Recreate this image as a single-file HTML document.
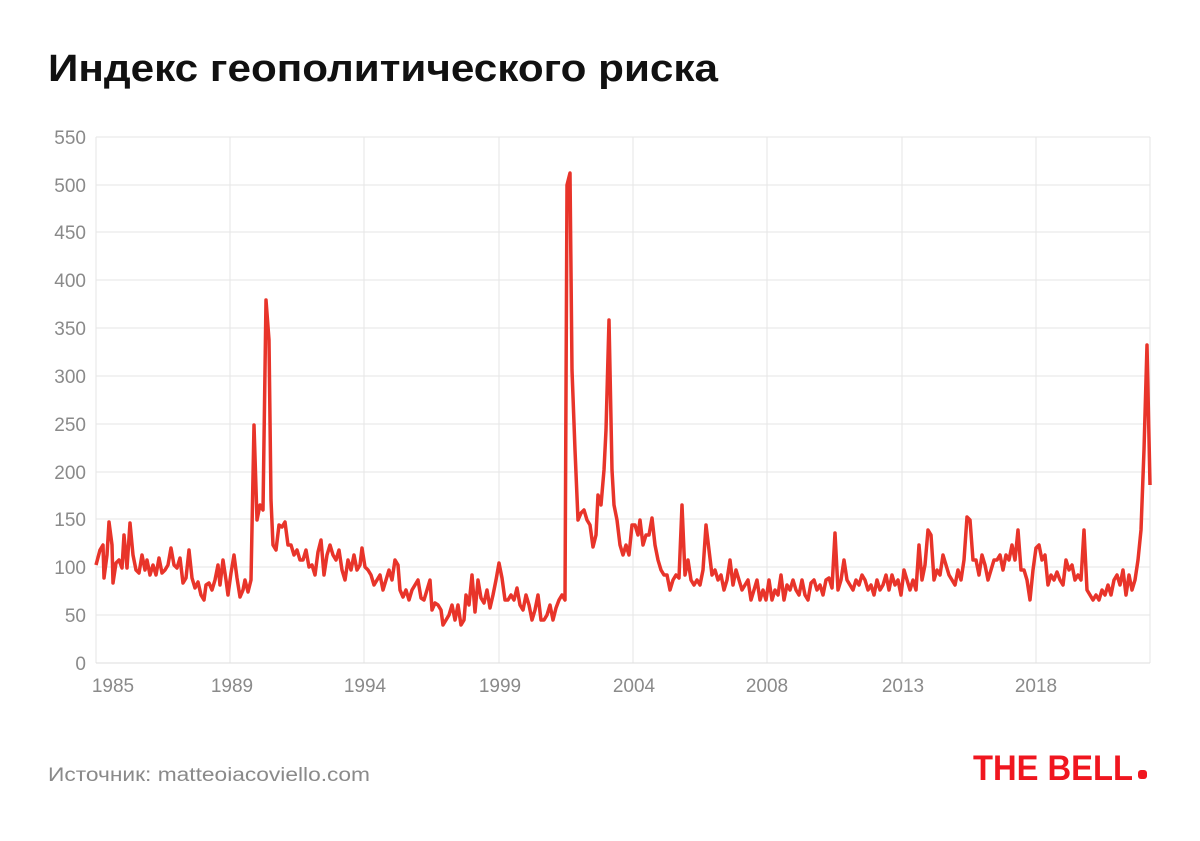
<!DOCTYPE html>
<html><head><meta charset="utf-8"><style>
html,body{margin:0;padding:0;background:#fff;width:1200px;height:841px;overflow:hidden}
</style></head><body>
<svg width="1200" height="841" xmlns="http://www.w3.org/2000/svg" style="position:absolute;left:0;top:0">
<text x="48" y="81" font-family="Liberation Sans, sans-serif" font-size="38" font-weight="bold" fill="#111" textLength="670" lengthAdjust="spacingAndGlyphs">Индекс геополитического риска</text>
<g stroke="#e6e6e6" stroke-width="1">
<line x1="96" x2="1150" y1="137" y2="137"/><line x1="96" x2="1150" y1="185" y2="185"/><line x1="96" x2="1150" y1="232" y2="232"/><line x1="96" x2="1150" y1="280" y2="280"/><line x1="96" x2="1150" y1="328" y2="328"/><line x1="96" x2="1150" y1="376" y2="376"/><line x1="96" x2="1150" y1="424" y2="424"/><line x1="96" x2="1150" y1="472" y2="472"/><line x1="96" x2="1150" y1="519" y2="519"/><line x1="96" x2="1150" y1="567" y2="567"/><line x1="96" x2="1150" y1="615" y2="615"/>
<line x1="96" x2="96" y1="137" y2="663"/><line x1="230" x2="230" y1="137" y2="663"/><line x1="364" x2="364" y1="137" y2="663"/><line x1="499" x2="499" y1="137" y2="663"/><line x1="633" x2="633" y1="137" y2="663"/><line x1="767" x2="767" y1="137" y2="663"/><line x1="902" x2="902" y1="137" y2="663"/><line x1="1036" x2="1036" y1="137" y2="663"/><line x1="1150" x2="1150" y1="137" y2="663"/>
<line x1="96" x2="1150" y1="663" y2="663" stroke="#ddd"/>
</g>
<g font-family="Liberation Sans, sans-serif" font-size="19" fill="#8a8a8a" text-anchor="end">
<text x="86" y="144">550</text><text x="86" y="192">500</text><text x="86" y="239">450</text><text x="86" y="287">400</text><text x="86" y="335">350</text><text x="86" y="383">300</text><text x="86" y="431">250</text><text x="86" y="479">200</text><text x="86" y="526">150</text><text x="86" y="574">100</text><text x="86" y="622">50</text><text x="86" y="670">0</text>
</g>
<g font-family="Liberation Sans, sans-serif" font-size="19" fill="#8a8a8a" text-anchor="middle">
<text x="113" y="692">1985</text><text x="232" y="692">1989</text><text x="365" y="692">1994</text><text x="500" y="692">1999</text><text x="634" y="692">2004</text><text x="767" y="692">2008</text><text x="903" y="692">2013</text><text x="1036" y="692">2018</text>
</g>
<polyline fill="none" stroke="#e8342a" stroke-width="3.5" stroke-linejoin="round" points="96,565 100,550 103,545 104,578 107,555 109,522 112,545 113,583 116,563 119,560 122,568 124,535 127,568 130,523 133,555 136,570 139,573 142,555 145,570 147,560 150,575 153,565 156,575 159,558 162,573 165,570 168,565 171,548 174,565 177,568 180,558 183,583 186,578 189,550 192,578 195,588 198,582 201,595 204,600 206,585 209,583 212,590 215,580 218,565 220,585 223,560 226,580 228,595 231,573 234,555 237,578 240,597 243,590 245,580 248,592 251,580 254,425 257,520 260,505 263,510 266,300 269,340 271,500 273,545 276,550 279,525 282,527 285,522 288,545 291,545 294,555 297,550 300,560 303,560 306,550 309,567 312,565 315,575 318,552 321,540 324,575 327,555 330,545 333,555 336,560 339,550 342,570 345,580 348,560 351,570 354,555 357,570 360,565 362,548 365,567 368,570 371,575 374,585 377,580 380,575 383,590 386,580 389,570 392,580 395,560 398,565 400,590 403,597 406,590 409,600 412,590 415,585 418,580 421,598 424,600 427,590 430,580 432,610 435,603 438,605 441,610 443,625 446,620 449,615 452,605 455,620 458,605 461,625 464,620 466,595 469,605 472,575 475,612 478,580 481,598 484,603 487,590 490,608 493,595 496,580 499,563 502,578 505,600 508,600 511,595 514,600 517,588 520,605 523,610 526,595 529,605 532,620 535,610 538,595 541,620 544,620 547,615 550,605 553,620 556,608 559,600 562,595 565,600 567,185 570,173 572,370 575,450 578,520 581,513 584,510 587,520 590,525 593,547 596,535 598,495 601,505 604,470 606,430 609,320 612,470 614,505 617,520 620,545 623,555 626,545 629,555 632,525 635,525 638,535 640,520 643,545 646,535 649,535 652,518 655,545 658,560 661,570 664,575 667,575 670,590 673,580 676,575 679,578 682,505 685,575 688,560 691,580 694,585 697,580 700,585 703,570 706,525 709,550 712,575 715,570 718,580 721,575 724,590 727,580 730,560 733,585 736,570 739,580 742,590 745,585 748,580 751,600 754,590 757,580 760,600 763,590 766,600 769,580 772,600 775,590 778,595 781,575 784,600 787,585 790,590 793,580 796,590 799,595 802,580 805,595 808,600 811,583 814,580 817,590 820,585 823,595 826,580 829,578 832,588 835,533 838,590 841,580 844,560 847,580 850,585 853,590 856,580 859,585 862,575 865,580 868,590 871,585 874,595 877,580 880,590 883,585 886,575 889,590 892,575 895,585 898,580 901,595 904,570 907,580 910,590 913,580 916,590 919,545 922,580 925,565 928,530 931,535 934,580 937,570 940,575 943,555 946,565 949,575 952,580 955,585 958,570 961,580 964,560 967,517 970,520 973,560 976,560 979,575 982,555 985,565 988,580 991,570 994,560 997,560 1000,555 1003,570 1006,555 1009,560 1012,545 1015,560 1018,530 1021,570 1024,570 1027,580 1030,600 1033,570 1036,548 1039,545 1042,560 1045,555 1048,585 1051,575 1054,580 1057,572 1060,580 1063,585 1066,560 1069,570 1072,565 1075,580 1078,575 1081,580 1084,530 1087,590 1090,595 1093,600 1096,595 1099,600 1102,590 1105,595 1108,585 1111,595 1114,580 1117,575 1120,585 1123,570 1126,595 1129,575 1132,590 1135,580 1138,560 1141,530 1144,450 1147,345 1150,485"/>
<text x="48" y="781" font-family="Liberation Sans, sans-serif" font-size="19" fill="#8a8a8a" textLength="322" lengthAdjust="spacingAndGlyphs">Источник: matteoiacoviello.com</text>
<text x="973" y="780" font-family="Liberation Sans, sans-serif" font-size="35" font-weight="bold" fill="#f0161f" textLength="160" lengthAdjust="spacingAndGlyphs">THE BELL</text>
<rect x="1138" y="770" width="9" height="9" rx="3" fill="#f0161f"/>
</svg>
</body></html>
